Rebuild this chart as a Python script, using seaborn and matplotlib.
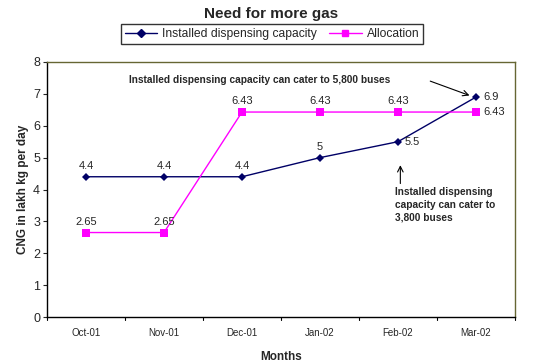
import pandas as pd
import matplotlib.pyplot as plt
import seaborn as sns
from matplotlib.lines import Line2D

# chart data
months = ['Oct-01', 'Nov-01', 'Dec-01', 'Jan-02', 'Feb-02', 'Mar-02']
installed = [4.4, 4.4, 4.4, 5, 5.5, 6.9]
allocation = [2.65, 2.65, 6.43, 6.43, 6.43, 6.43]

df = pd.DataFrame({'Month': months,
                   'Installed dispensing capacity': installed,
                   'Allocation': allocation})
long = df.melt(id_vars='Month', var_name='Series', value_name='Value')
long['x'] = long['Month'].map({m: i for i, m in enumerate(months)})

sns.set_style('white')
plt.rcParams['font.family'] = ['Liberation Sans', 'DejaVu Sans']

fig = plt.figure(figsize=(5.42, 3.64), dpi=100)
ax = fig.add_axes([47 / 542, 1 - 317 / 364, 468 / 542, 255 / 364])

navy = '#000066'
magenta = '#ff00ff'
palette = {'Installed dispensing capacity': navy, 'Allocation': magenta}
markers = {'Installed dispensing capacity': 'D', 'Allocation': 's'}
sns.lineplot(data=long, x='x', y='Value', hue='Series', style='Series',
             palette=palette, markers=markers, dashes=False,
             markeredgewidth=0, linewidth=1, ax=ax, legend=False)
ax.lines[0].set_markersize(4.5)
ax.lines[1].set_markersize(6)

ax.set_xlim(-0.5, 5.5)
ax.set_ylim(0, 8)
ax.set_yticks(range(0, 9))
ax.tick_params(axis='y', labelsize=9, length=3, direction='out', left=True, pad=2)
ax.set_xticks(range(len(months)))
ax.set_xticklabels(months, fontsize=7)
ax.tick_params(axis='x', length=0, pad=8)
for b in [x + 0.5 for x in range(-1, 6)]:
    ax.plot([b, b], [0, -0.1], color='black', lw=0.8, clip_on=False)

for s in ['left', 'bottom']:
    ax.spines[s].set_color('black')
    ax.spines[s].set_linewidth(1)
for s in ['top', 'right']:
    ax.spines[s].set_color('#666633')
    ax.spines[s].set_linewidth(1)

ax.set_xlabel('Months', fontsize=8.5, fontweight='bold', labelpad=9)
ax.set_ylabel('CNG in lakh kg per day', fontsize=8.5, fontweight='bold', labelpad=3)
fig.text(0.5, 1 - 14 / 364, 'Need for more gas', ha='center', va='center',
         fontsize=11, fontweight='bold')

# data labels
for i, v in enumerate(installed):
    if i >= 4:
        ax.annotate(f'{v:g}', (i, v), xytext=(5, 0), textcoords='offset points',
                    ha='left', va='center', fontsize=8)
    else:
        ax.annotate(f'{v:g}', (i, v), xytext=(0, 4), textcoords='offset points',
                    ha='center', va='bottom', fontsize=8)
for i, v in enumerate(allocation):
    if i == 5:
        ax.annotate(f'{v:g}', (i, v), xytext=(5, 0), textcoords='offset points',
                    ha='left', va='center', fontsize=8)
    else:
        ax.annotate(f'{v:g}', (i, v), xytext=(0, 4), textcoords='offset points',
                    ha='center', va='bottom', fontsize=8)

# notes
ax.text(0.55, 7.43, 'Installed dispensing capacity can cater to 5,800 buses',
        fontsize=7.3, fontweight='bold', ha='left', va='center')
ax.annotate('', xy=(4.95, 6.92), xytext=(4.38, 7.43),
            arrowprops=dict(arrowstyle='->', color='black', lw=0.8))
ax.text(3.96, 4.08, 'Installed dispensing\ncapacity can cater to\n3,800 buses',
        fontsize=7.3, fontweight='bold', ha='left', va='top', linespacing=1.35)
ax.annotate('', xy=(4.03, 4.85), xytext=(4.03, 4.1),
            arrowprops=dict(arrowstyle='->', color='black', lw=0.8))

# legend box
handles = [Line2D([], [], color=navy, marker='D', markersize=4, lw=1),
           Line2D([], [], color=magenta, marker='s', markersize=5, lw=1)]
leg = fig.legend(handles, ['Installed dispensing capacity', 'Allocation'],
                 loc='center', bbox_to_anchor=(272 / 542, 1 - 34 / 364), ncol=2,
                 fontsize=8.7, frameon=True, fancybox=False, edgecolor='black',
                 handlelength=2.7, columnspacing=1.0, handletextpad=0.4,
                 borderpad=0.35)
leg.get_frame().set_linewidth(1)

fig.savefig('out.png', dpi=100)
